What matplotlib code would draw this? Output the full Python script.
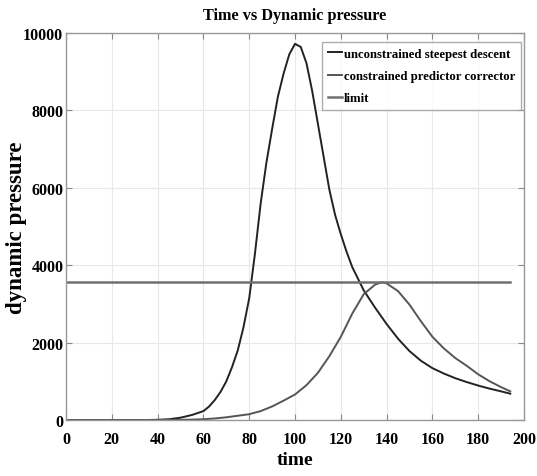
import matplotlib.pyplot as plt

plt.rcParams['font.family'] = ['Liberation Serif', 'DejaVu Serif']
plt.rcParams['font.weight'] = 'bold'

# time samples (s) and dynamic pressure for each trajectory
t_u = [0, 5, 10, 15, 20, 25, 30, 35, 40, 45, 50, 55, 60, 62.5, 65, 67.5, 70,
       72.5, 75, 77.5, 80, 82.5, 85, 87.5, 90, 92.5, 95, 97.5, 100, 102.5, 105,
       107.5, 110, 112.5, 115, 117.5, 120, 122.5, 125, 130, 135, 140, 145, 150,
       155, 160, 165, 170, 175, 180, 185, 190, 194]
q_unconstrained = [0, 0, 0, 0, 0, 0, 0, 0, 5, 20, 60, 130, 230, 350, 520, 730,
                   1000, 1370, 1800, 2400, 3150, 4300, 5600, 6650, 7520, 8350,
                   8950, 9450, 9720, 9640, 9220, 8500, 7650, 6800, 5950, 5300,
                   4800, 4350, 3950, 3350, 2900, 2480, 2100, 1780, 1530, 1340,
                   1200, 1080, 980, 890, 810, 740, 680]

t_c = [0, 5, 10, 15, 20, 25, 30, 35, 40, 45, 50, 55, 60, 65, 70, 75, 80, 85, 90,
       95, 100, 105, 110, 115, 120, 125, 130, 135, 138, 140, 145, 150, 155, 160,
       165, 170, 175, 180, 185, 190, 194]
q_constrained = [0, 0, 0, 0, 0, 0, 0, 0, 0, 0, 5, 10, 20, 40, 70, 110, 150, 230,
                 350, 500, 660, 900, 1220, 1650, 2150, 2750, 3250, 3500, 3560,
                 3530, 3330, 2980, 2550, 2150, 1850, 1600, 1400, 1180, 1000, 850,
                 740]

q_limit = 3560
t_limit = [0, 194]

fig = plt.figure(figsize=(5.37, 4.77), dpi=100)
ax = fig.add_axes([0.123, 0.1174, 0.8528, 0.8113])

ax.plot(t_u, q_unconstrained, color='#222222', lw=1.4, label='unconstrained steepest descent')
ax.plot(t_c, q_constrained, color='#555555', lw=1.4, label='constrained predictor corrector')
ax.plot(t_limit, [q_limit, q_limit], color='#707070', lw=1.8, label='limit')

ax.set_xlim(0, 200)
ax.set_ylim(0, 10000)
ax.set_xticks(range(0, 201, 20))
ax.set_yticks(range(0, 10001, 2000))
ax.grid(True, color='#e8e8e8', lw=0.8)
ax.tick_params(direction='in', top=True, right=True, labelsize=11.5,
               color='#888888', length=4)
ax.tick_params(axis='x', pad=8)
ax.tick_params(axis='y', pad=2)
for s in ax.spines.values():
    s.set_color('#999999')
    s.set_linewidth(1.0)
for lbl in ax.get_xticklabels() + ax.get_yticklabels():
    lbl.set_fontweight('bold')

ax.set_title('Time vs Dynamic pressure', fontsize=11.7, fontweight='bold', pad=10)
ax.set_xlabel('time', fontsize=14, fontweight='bold', labelpad=3)
ax.set_ylabel('dynamic pressure', fontsize=16.5, fontweight='bold')
ax.yaxis.set_label_coords(-0.085, 0.5)

leg = ax.legend(loc='upper right', bbox_to_anchor=(521 / 537, 1 - 43 / 477),
                bbox_transform=fig.transFigure, borderaxespad=0,
                prop={'weight': 'bold', 'size': 9.2},
                frameon=True, fancybox=False, handlelength=1.1, handletextpad=0.15,
                borderpad=0.45, labelspacing=0.8)
leg.get_frame().set_edgecolor('#999999')
leg.get_frame().set_linewidth(1.0)

fig.savefig('out.png', dpi=100)
